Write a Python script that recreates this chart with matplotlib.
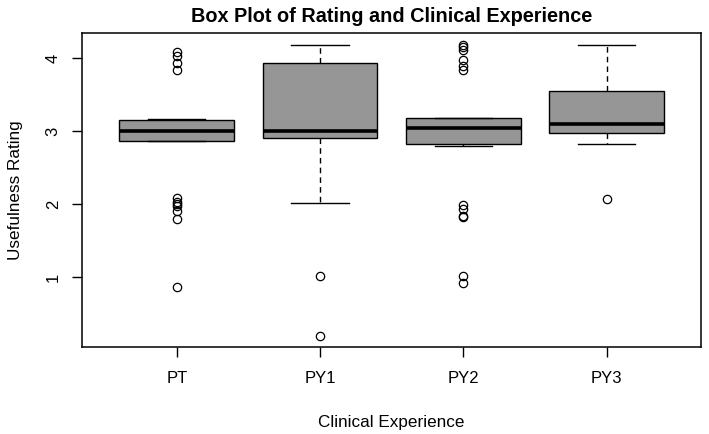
import matplotlib.pyplot as plt

groups = ["PT", "PY1", "PY2", "PY3"]
q1 = [2.86, 2.90, 2.82, 2.97]
med = [3.00, 3.00, 3.04, 3.10]
q3 = [3.16, 3.93, 3.18, 3.55]
whis_lo = [2.86, 2.02, 2.80, 2.82]
whis_hi = [3.17, 4.18, 3.18, 4.18]
outliers = [
    [4.08, 4.03, 3.93, 3.84, 2.09, 2.03, 2.00, 1.97, 1.90, 1.80, 0.86],
    [1.01, 0.20],
    [4.18, 4.15, 4.11, 3.97, 3.89, 3.84, 1.99, 1.94, 1.84, 1.82, 1.02, 0.92],
    [2.07],
]

plt.rcParams['font.family'] = ['Liberation Sans', 'DejaVu Sans']

stats = []
for i, g in enumerate(groups):
    stats.append(dict(label=g, q1=q1[i], med=med[i], q3=q3[i],
                      whislo=whis_lo[i], whishi=whis_hi[i], fliers=outliers[i]))

fig = plt.figure(figsize=(7.09, 4.34), dpi=100)
ax = fig.add_axes([0.116, 0.2, 0.873, 0.723])

ax.bxp(stats, positions=[1, 2, 3, 4], widths=0.8, capwidths=0.4,
       patch_artist=True,
       boxprops=dict(facecolor='#969696', edgecolor='black', linewidth=1.0),
       medianprops=dict(color='black', linewidth=2.6, solid_capstyle='butt'),
       whiskerprops=dict(color='black', linewidth=1.0, linestyle=(0, (4, 3))),
       capprops=dict(color='black', linewidth=1.0),
       flierprops=dict(marker='o', markerfacecolor='none', markeredgecolor='black',
                       markersize=6, markeredgewidth=0.9))

ax.set_xlim(0.34, 4.66)
ax.set_ylim(0.04, 4.34)
ax.set_yticks([1, 2, 3, 4])
ax.set_yticklabels(['1', '2', '3', '4'], rotation=90, va='center')
ax.tick_params(axis='y', length=7.5, width=1, pad=8, labelsize=12)
ax.tick_params(axis='x', length=7.5, width=1, pad=9.5, labelsize=12)
for s in ax.spines.values():
    s.set_linewidth(1.1)

ax.set_title("Box Plot of Rating and Clinical Experience", fontsize=14.3,
             fontweight='bold', pad=8.5)
ax.set_xlabel("Clinical Experience", fontsize=12.3, labelpad=21)
ax.set_ylabel("Usefulness Rating", fontsize=12.3, labelpad=16)

fig.savefig("out.png", dpi=100)
